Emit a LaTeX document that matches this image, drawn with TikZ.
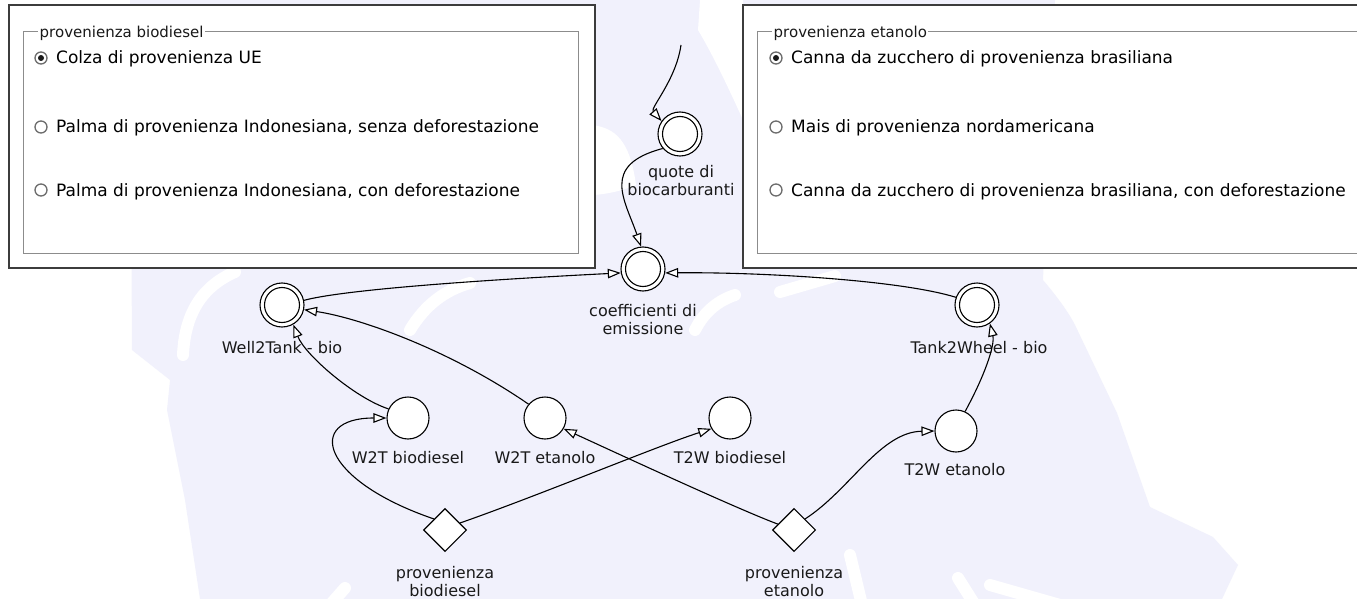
\documentclass[tikz,border=0pt]{standalone}
\usepackage{fontspec}
\setmainfont{DejaVu Sans}
\usetikzlibrary{arrows.meta,shapes.geometric}
\definecolor{wm}{RGB}{241,241,252}
\definecolor{boxline}{RGB}{60,60,60}
\definecolor{grpline}{RGB}{140,140,140}
\definecolor{txt}{RGB}{25,25,25}
\tikzset{
  dcirc/.style={circle, draw, fill=white, line width=1.1pt, minimum size=44pt, inner sep=0pt,
    path picture={\draw[line width=1.1pt] (path picture bounding box.center) circle[radius=17.5pt];}},
  scirc/.style={circle, draw, fill=white, line width=1.1pt, minimum size=42pt, inner sep=0pt},
  dia/.style={diamond, draw, fill=white, line width=1.1pt, minimum size=43pt, inner sep=0pt, aspect=1},
  lbl/.style={text=txt, font=\fontsize{16}{18}\selectfont, align=center, inner sep=0pt},
  conn/.style={line width=1.1pt, -{Triangle[length=13pt, width=9.5pt, fill=white]}},
  outerbox/.style={draw=boxline, line width=1.4pt, fill=white},
  grpbox/.style={draw=grpline, line width=0.9pt},
  legend/.style={text=txt, font=\fontsize{15}{18}\selectfont, fill=white, inner xsep=1.5pt, inner ysep=0pt},
  rtext/.style={text=black, font=\fontsize{17}{20}\selectfont, inner sep=0pt},
  radio/.style={circle, draw=gray!85!black, line width=1.3pt, fill=white, minimum size=12pt, inner sep=0pt},
  wstroke/.style={white, line width=12pt, line cap=round}
}
\begin{document}
\begin{tikzpicture}[x=1pt,y=-1pt]
\useasboundingbox (0,0) rectangle (1357,599);
\clip (0,0) rectangle (1357,599);
\fill[white] (0,0) rectangle (1357,599);
% watermark
\fill[wm] (130,0) -- (1055,0) -- (1043,280) .. controls (1060,300) and (1070,315) .. (1075,325)
  -- (1117,413) -- (1150,507) -- (1213,537) -- (1238,565) -- (1222,599) -- (200,599)
  -- (185,500) -- (167,410) -- (170,380) -- (132,350) -- cycle;
\fill[white] (700,0) -- (743,0) -- (743,120) .. controls (725,80) and (710,50) .. (698,30) -- cycle;
\fill[white] (592,125) .. controls (615,128) and (630,140) .. (636,185) .. controls (620,192) and (600,195) .. (592,195) -- cycle;
\draw[wstroke] (183,355) .. controls (185,310) and (205,285) .. (235,272);
\draw[wstroke] (410,330) .. controls (425,305) and (445,290) .. (470,283);
\draw[wstroke] (695,330) .. controls (705,310) and (720,300) .. (735,295);
\draw[wstroke] (780,292) -- (835,276);
\draw[wstroke] (330,605) -- (345,588);
\draw[wstroke] (850,555) -- (862,605);
\draw[wstroke] (990,585) -- (1060,605);
\draw[wstroke] (958,578) -- (975,605);

% left panel
\draw[outerbox] (9,5) rectangle (595,268);
\draw[grpbox] (23,31) rectangle (578,253);
\node[legend, anchor=base west] (lg1) at (38,38) {provenienza biodiesel};
\node[radio] (rb1) at (41,58) {};
\fill[txt] (rb1.center) circle[radius=3];
\node[radio] (rb2) at (41,127) {};
\node[radio] (rb3) at (41,190) {};
\node[rtext, anchor=base west] (rt1) at (56,64) {Colza di provenienza UE};
\node[rtext, anchor=base west] (rt2) at (56,133) {Palma di provenienza Indonesiana, senza deforestazione};
\node[rtext, anchor=base west] (rt3) at (56,196) {Palma di provenienza Indonesiana, con deforestazione};

% right panel
\draw[outerbox] (743,5) rectangle (1375,268);
\draw[grpbox] (757,31) rectangle (1370,253);
\node[legend, anchor=base west] (lg2) at (772,38) {provenienza etanolo};
\node[radio] (rb4) at (776,58) {};
\fill[txt] (rb4.center) circle[radius=3];
\node[radio] (rb5) at (776,127) {};
\node[radio] (rb6) at (776,190) {};
\node[rtext, anchor=base west] (rt4) at (791,64) {Canna da zucchero di provenienza brasiliana};
\node[rtext, anchor=base west] (rt5) at (791,133) {Mais di provenienza nordamericana};
\node[rtext, anchor=base west] (rt6) at (791,196) {Canna da zucchero di provenienza brasiliana, con deforestazione};

% nodes
\node[dcirc] (q) at (680,134) {};
\node[dcirc] (c) at (643,269) {};
\node[dcirc] (wt) at (282,305) {};
\node[dcirc] (tw) at (977,305) {};
\node[scirc] (w2tb) at (408,418) {};
\node[scirc] (w2te) at (545,418) {};
\node[scirc] (t2wb) at (730,418) {};
\node[scirc] (t2we) at (956,431) {};
\node[dia] (pb) at (445,530) {};
\node[dia] (pe) at (794,530) {};

% labels
\node[lbl, anchor=north] (ql) at (681,165) {quote di\\biocarburanti};
\node[lbl, anchor=north] (cl) at (643,304) {coefficienti di\\emissione};
\node[lbl, anchor=base] (wtl) at (282,353) {Well2Tank - bio};
\node[lbl, anchor=base] (twl) at (979,353) {Tank2Wheel - bio};
\node[lbl, anchor=base] (w2tbl) at (408,463) {W2T biodiesel};
\node[lbl, anchor=base] (w2tel) at (545,463) {W2T etanolo};
\node[lbl, anchor=base] (t2wbl) at (730,463) {T2W biodiesel};
\node[lbl, anchor=base] (t2wel) at (955,475) {T2W etanolo};
\node[lbl, anchor=north] (pbl) at (445,566) {provenienza\\biodiesel};
\node[lbl, anchor=north] (pel) at (794,566) {provenienza\\etanolo};

% connectors
\coordinate (qin) at (681,45);
\draw[conn] (qin) .. controls (676,80) and (650,108) .. (q.145);
\draw[conn] (q.220) .. controls (600,165) and (625,200) .. (c.95);
\draw[conn] (wt.12) .. controls (350,288) and (520,278) .. (c.190);
\draw[conn] (tw.160) .. controls (900,280) and (760,272) .. (c.-10);
\draw[conn] (w2tb.155) .. controls (355,398) and (305,355) .. (wt.-60);
\draw[conn] (w2te.140) .. controls (450,350) and (360,318) .. (wt.-12);
\draw[conn] (pb.north west) .. controls (320,480) and (305,418) .. (w2tb.west);
\draw[conn] (pb.25) .. controls (540,495) and (660,445) .. (t2wb.210);
\draw[conn] (pe.160) .. controls (735,508) and (610,450) .. (w2te.-30);
\draw[conn] (pe.north east) .. controls (850,490) and (880,432) .. (t2we.west);
\draw[conn] (t2we.65) .. controls (985,375) and (995,345) .. (tw.-55);
\end{tikzpicture}
\end{document}
